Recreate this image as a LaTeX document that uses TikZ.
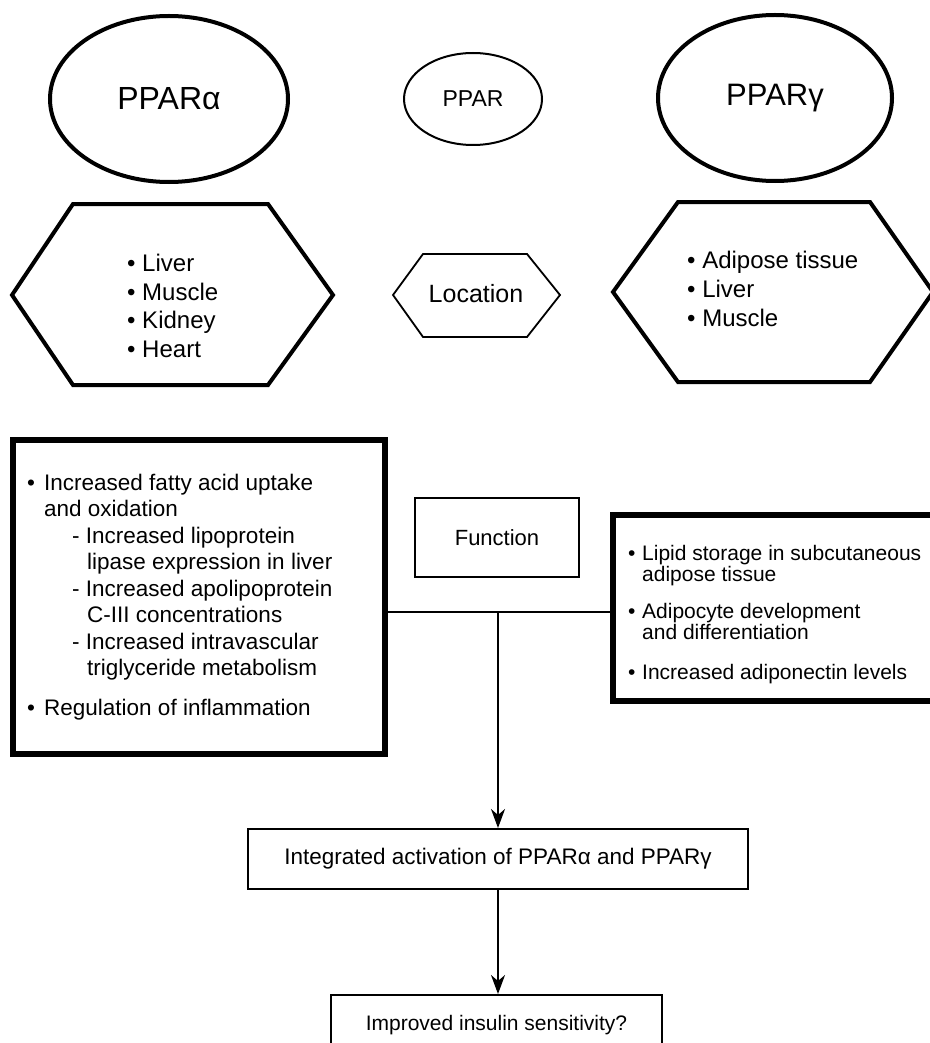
\documentclass[tikz,border=0pt]{standalone}
\usepackage{fontspec}
\setmainfont{Liberation Sans}
\usetikzlibrary{shapes.geometric,arrows.meta}
\tikzset{
  bigell/.style={draw, ellipse, line width=4pt, inner sep=0pt},
  smallell/.style={draw, ellipse, line width=2pt, inner sep=0pt},
  hexthick/.style={line width=4pt, line join=miter},
  hexthin/.style={line width=1.8pt, line join=miter},
  thickbox/.style={draw, line width=6pt, inner sep=0pt},
  thinbox/.style={draw, line width=2pt, inner sep=0pt},
  conn/.style={line width=2pt},
  arr/.style={conn, -{Stealth[length=19pt,width=14pt,inset=6pt]}},
  listtext/.style={anchor=base west, inner sep=0pt},
}
\begin{document}
\begin{tikzpicture}[x=1pt,y=-1pt]
\useasboundingbox (0,0) rectangle (929,1043);
\fill[white] (0,0) rectangle (929,1043);

% ellipses
\node[bigell, minimum width=238pt, minimum height=166pt, font=\fontsize{32}{36}\selectfont] (palpha) at (169,99) {PPARα};
\node[smallell, minimum width=138pt, minimum height=92pt, font=\fontsize{23}{26}\selectfont] (ppar) at (473,99) {PPAR};
\node[bigell, minimum width=234pt, minimum height=166pt, font=\fontsize{31}{36}\selectfont] (pgamma) at (775,98) {PPARγ};

% hexagons
\draw[hexthick] (12,295) -- (73,204) -- (268,204) -- (333,295) -- (268,385) -- (73,385) -- cycle;
\draw[hexthin] (393,295) -- (423,254) -- (527,254) -- (560,295) -- (527,337) -- (423,337) -- cycle;
\draw[hexthick] (613,292) -- (678,202) -- (870,202) -- (933,292) -- (870,382) -- (678,382) -- cycle;

\node[listtext, font=\fontsize{24}{28.7}\selectfont] (localpha) at (127,271.5)
  {\begin{tabular}[t]{@{}l@{}}\textbullet\ Liver\\ \textbullet\ Muscle\\ \textbullet\ Kidney\\ \textbullet\ Heart\end{tabular}};
\node[inner sep=0pt, font=\fontsize{25}{28}\selectfont] (location) at (476,294) {Location};
\node[listtext, font=\fontsize{24}{29}\selectfont] (locgamma) at (687,268.5)
  {\begin{tabular}[t]{@{}l@{}}\textbullet\ Adipose tissue\\ \textbullet\ Liver\\ \textbullet\ Muscle\end{tabular}};

% function boxes
\node[thickbox, minimum width=372pt, minimum height=314pt] (leftbox) at (199,597) {};
\node[listtext, font=\fontsize{22.5}{26.5}\selectfont] (lefttext) at (27,490)
  {\begin{tabular}[t]{@{}p{17pt}@{}l@{}}
   \textbullet & Increased fatty acid uptake\\
   & and oxidation\\
   & \hspace*{28pt}- Increased lipoprotein\\
   & \hspace*{43pt}lipase expression in liver\\
   & \hspace*{28pt}- Increased apolipoprotein\\
   & \hspace*{43pt}C-III concentrations\\
   & \hspace*{28pt}- Increased intravascular\\
   & \hspace*{43pt}triglyceride metabolism\\[13.5pt]
   \textbullet & Regulation of inflammation
  \end{tabular}};

\node[thinbox, minimum width=164pt, minimum height=79pt, font=\fontsize{22}{26}\selectfont] (function) at (497,537.5) {Function};

\node[thickbox, minimum width=347pt, minimum height=186pt] (rightbox) at (786.5,608) {};
\node[listtext, font=\fontsize{21}{20}\selectfont] (righttext) at (628,560)
  {\begin{tabular}[t]{@{}p{14pt}@{}l@{}}
   \textbullet & Lipid storage in subcutaneous\\
   & adipose tissue\\[16pt]
   \textbullet & Adipocyte development\\
   & and differentiation\\[19pt]
   \textbullet & Increased adiponectin levels
  \end{tabular}};

% outcome boxes
\node[thinbox, minimum width=500pt, minimum height=60pt, font=\fontsize{22.5}{26}\selectfont] (integ) at (498,859) {Integrated activation of PPARα and PPARγ};
\node[thinbox, minimum width=331pt, minimum height=60pt, font=\fontsize{21}{26}\selectfont] (improved) at (496.5,1025) {Improved insulin sensitivity?};

% connectors
\coordinate (junc) at (498,612);
\draw[conn] (leftbox.east |- junc) -- (rightbox.west |- junc);
\draw[arr] (junc) -- (integ.north);
\draw[arr] (integ.south) -- (integ.south |- improved.north);
\end{tikzpicture}
\end{document}
